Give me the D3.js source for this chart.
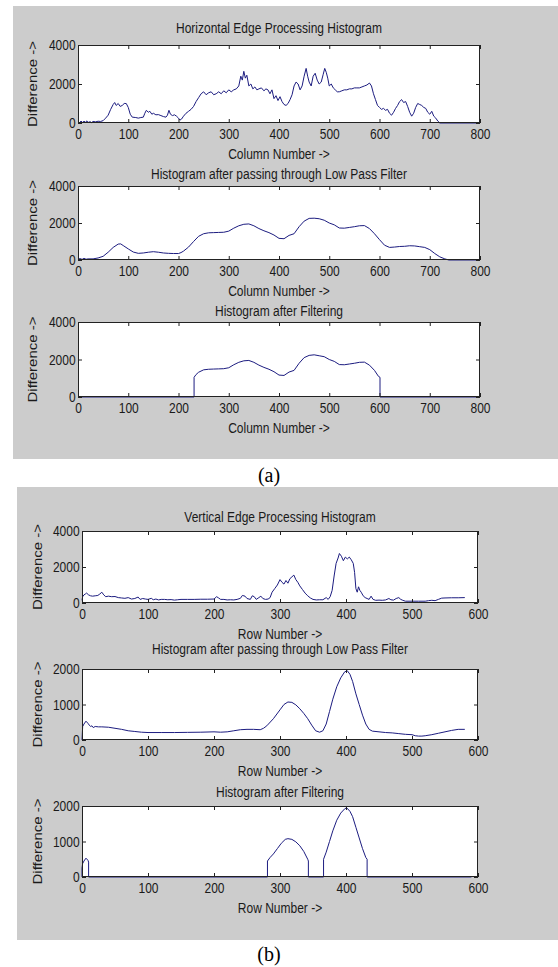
<!DOCTYPE html>
<html>
<head>
<meta charset="utf-8">
<script src="https://cdn.jsdelivr.net/npm/d3@7"></script>
<style>
  body { margin: 0; background: #fff; }
  svg { display: block; }
</style>
</head>
<body>
<div id="chart"></div>
<script>
var svgWidth = 558;
var svgHeight = 967;

// tick values
var colTicks = [0, 100, 200, 300, 400, 500, 600, 700, 800];
var rowTicks = [0, 100, 200, 300, 400, 500, 600];
var diffTicksHigh = [0, 2000, 4000];
var diffTicksLow = [0, 1000, 2000];

// labels
var colTitles = ["Horizontal Edge Processing Histogram", "Histogram after passing through Low Pass Filter", "Histogram after Filtering"];
var rowTitles = ["Vertical Edge Processing Histogram", "Histogram after passing through Low Pass Filter", "Histogram after Filtering"];
var colLabel = "Column Number ->";
var rowLabel = "Row Number ->";
var diffLabel = "Difference ->";
var captions = ["(a)", "(b)"];

// (a) horizontal edge histogram, [column, difference]
var colRaw = [[0,80],[3,20],[6,100],[9,30],[12,90],[15,40],[18,110],[21,30],[24,70],[27,20],[30,80],[35,60],[40,90],[45,80],[50,120],[55,250],[60,400],[65,700],[70,950],[73,1050],[76,900],[80,1000],[84,850],[88,900],[92,1000],[96,1000],[100,800],[104,450],[108,300],[115,280],[120,250],[125,280],[130,300],[133,500],[136,650],[140,550],[143,600],[147,450],[150,500],[155,420],[160,430],[165,380],[170,330],[175,300],[178,400],[181,650],[184,450],[188,380],[192,420],[196,350],[200,250],[203,150],[206,200],[210,350],[215,500],[220,600],[225,700],[230,850],[235,1100],[240,1300],[245,1500],[250,1600],[255,1450],[260,1550],[265,1600],[270,1450],[275,1500],[280,1600],[285,1500],[290,1650],[295,1550],[300,1700],[305,1600],[310,1700],[315,1750],[320,1900],[324,2400],[327,2200],[330,2650],[333,2300],[336,2450],[340,1900],[344,2000],[348,1750],[352,1850],[356,1700],[360,1750],[365,1800],[370,1650],[374,1750],[378,1700],[382,1500],[386,1700],[390,1250],[394,1400],[398,1150],[402,1350],[406,1100],[410,950],[414,900],[418,1000],[422,1200],[426,1450],[430,1900],[434,2100],[438,2000],[442,1700],[446,1900],[450,2400],[454,2800],[457,2400],[460,2100],[464,1900],[468,2400],[472,2550],[476,2200],[480,2000],[484,2100],[488,2500],[491,2800],[494,2600],[497,2300],[500,1900],[504,2000],[508,1800],[512,1700],[516,1600],[520,1600],[525,1650],[530,1700],[535,1700],[540,1750],[545,1750],[550,1800],[555,1800],[560,1800],[565,1850],[570,1900],[575,1950],[580,2050],[584,1900],[588,1500],[592,1200],[596,900],[600,800],[604,700],[608,750],[612,650],[616,700],[620,500],[624,400],[628,550],[632,750],[636,900],[640,1100],[644,1200],[648,1050],[652,1100],[656,850],[660,550],[664,350],[668,500],[672,800],[676,1000],[680,950],[684,900],[688,800],[692,750],[696,550],[700,450],[704,600],[708,350],[712,250],[716,100],[720,0],[800,0]];

var colLowPass = [[0,50],[5,80],[8,30],[12,90],[16,40],[20,60],[30,60],[40,110],[50,200],[60,420],[70,680],[80,860],[85,870],[90,780],[100,600],[110,430],[120,360],[130,380],[140,420],[150,450],[160,420],[170,380],[180,360],[190,350],[200,350],[205,400],[210,480],[220,700],[230,1000],[240,1280],[250,1420],[260,1470],[270,1480],[280,1490],[290,1500],[300,1560],[310,1720],[320,1850],[330,1930],[340,1950],[350,1850],[360,1700],[370,1580],[380,1480],[390,1350],[400,1170],[410,1150],[420,1330],[430,1420],[440,1800],[450,2100],[460,2250],[470,2260],[480,2230],[490,2150],[500,2000],[510,1900],[520,1730],[530,1720],[540,1760],[550,1800],[560,1850],[570,1860],[580,1700],[590,1420],[600,1100],[610,800],[620,680],[630,700],[640,730],[650,740],[660,770],[670,760],[680,720],[690,680],[700,560],[710,350],[720,170],[730,60],[738,0],[800,0]];

var colFiltered = [[0,0],[231,0],[231,1050],[235,1200],[240,1320],[250,1450],[260,1480],[270,1490],[280,1500],[290,1510],[300,1560],[310,1720],[320,1850],[330,1930],[340,1950],[350,1850],[360,1700],[370,1580],[380,1480],[390,1350],[400,1170],[410,1150],[420,1330],[430,1420],[440,1800],[450,2100],[460,2220],[470,2250],[480,2200],[490,2150],[500,2000],[510,1900],[520,1730],[530,1720],[540,1760],[550,1800],[560,1850],[570,1860],[580,1700],[590,1420],[598,1100],[601,1050],[601,0],[800,0]];

// (b) vertical edge histogram, [row, difference]
var rowRaw = [[0,150],[1,350],[3,450],[5,500],[7,550],[10,450],[13,400],[16,380],[20,400],[24,420],[27,500],[30,600],[33,450],[36,350],[40,380],[45,350],[50,360],[55,300],[60,280],[65,260],[70,300],[75,220],[80,250],[85,330],[88,200],[92,250],[96,220],[100,200],[105,260],[108,180],[112,220],[116,170],[120,200],[125,200],[130,180],[135,190],[140,160],[145,180],[150,200],[160,200],[170,200],[180,210],[190,210],[200,220],[204,350],[207,280],[210,200],[215,200],[220,170],[225,180],[230,170],[235,200],[240,260],[243,420],[247,380],[250,250],[255,200],[258,400],[261,350],[264,200],[268,300],[271,380],[274,250],[278,200],[282,220],[285,300],[288,600],[292,800],[296,1000],[300,1300],[303,1150],[306,1050],[309,1250],[312,1100],[315,1350],[318,1450],[321,1550],[324,1300],[327,1150],[330,950],[334,750],[338,550],[342,400],[346,280],[350,200],[355,170],[360,180],[365,180],[370,300],[373,200],[376,350],[379,700],[382,1500],[385,2200],[388,2500],[390,2750],[393,2600],[396,2350],[399,2550],[402,2450],[405,2550],[408,2400],[411,2200],[413,1700],[415,800],[417,600],[419,900],[421,700],[423,600],[426,400],[429,300],[432,250],[435,200],[438,380],[441,200],[445,150],[450,160],[455,150],[460,170],[465,250],[468,180],[472,160],[476,250],[480,300],[483,200],[486,150],[490,100],[500,100],[510,100],[520,100],[525,130],[530,150],[535,130],[540,200],[545,270],[550,280],[560,290],[570,290],[580,300]];

var rowLowPass = [[0,0],[1,380],[3,450],[6,530],[9,470],[11,420],[13,380],[15,400],[17,350],[20,380],[25,370],[30,370],[40,360],[50,330],[60,300],[70,260],[80,240],[90,220],[100,210],[120,210],[140,210],[160,215],[180,220],[200,230],[210,220],[220,230],[230,260],[240,290],[250,300],[260,300],[270,290],[275,330],[280,400],[290,600],[300,850],[306,1000],[312,1070],[318,1060],[324,990],[330,880],[336,750],[342,600],[348,420],[354,260],[360,220],[365,260],[370,450],[375,800],[380,1150],[386,1500],[392,1750],[398,1920],[402,1950],[406,1850],[410,1650],[415,1300],[420,1000],[425,700],[430,450],[435,300],[440,250],[450,230],[460,210],[470,200],[480,180],[490,160],[500,150],[505,120],[510,110],[515,110],[520,120],[530,150],[540,190],[550,230],[560,270],[570,300],[580,300]];

var rowFiltered = [[0,0],[0,250],[1,380],[3,450],[6,530],[9,470],[10,420],[10,0],[281,0],[281,450],[285,550],[290,650],[296,800],[302,950],[308,1060],[312,1080],[318,1060],[324,990],[330,880],[336,720],[342,500],[343,450],[343,0],[366,0],[366,500],[370,700],[375,1000],[380,1300],[386,1600],[392,1800],[398,1920],[401,1950],[406,1850],[410,1700],[415,1400],[420,1100],[425,800],[430,550],[432,500],[432,0],[590,0]];

var fontFamily = "'Liberation Sans', Arial, sans-serif";
var fontSize = 15;
var squeeze = 0.8;      // the screenshot was squeezed horizontally
var lineColor = "#1c1c80";
var textColor = "#1a1a1a";

var svg = d3.select("#chart")
  .append("svg")
  .attr("width", svgWidth)
  .attr("height", svgHeight);

// grey matlab figure windows + captions
var figures = [
  {x: 13, y: 6, w: 545, h: 453, caption: captions[0], capY: 482},
  {x: 17, y: 487, w: 541, h: 453, caption: captions[1], capY: 961}
];

figures.forEach(function(f) {
  svg.append("rect")
    .attr("x", f.x).attr("y", f.y)
    .attr("width", f.w).attr("height", f.h)
    .attr("fill", "#cccccc");
  svg.append("text")
    .attr("x", 269).attr("y", f.capY)
    .attr("text-anchor", "middle")
    .attr("font-family", "'Liberation Serif', 'Times New Roman', serif")
    .attr("font-size", 20)
    .attr("fill", "#000")
    .text(f.caption);
});

var panels = [
  {left: 78, top: 45, width: 402, height: 78, titleY: 33, data: colRaw, xMax: 800, xTicks: colTicks, yMax: 4000, yTicks: diffTicksHigh, title: colTitles[0], xLabel: colLabel},
  {left: 78, top: 186, width: 402, height: 74, titleY: 179, data: colLowPass, xMax: 800, xTicks: colTicks, yMax: 4000, yTicks: diffTicksHigh, title: colTitles[1], xLabel: colLabel},
  {left: 78, top: 322, width: 402, height: 75, titleY: 316, data: colFiltered, xMax: 800, xTicks: colTicks, yMax: 4000, yTicks: diffTicksHigh, title: colTitles[2], xLabel: colLabel},
  {left: 82, top: 531, width: 396, height: 72, titleY: 522, data: rowRaw, xMax: 600, xTicks: rowTicks, yMax: 4000, yTicks: diffTicksHigh, title: rowTitles[0], xLabel: rowLabel},
  {left: 82, top: 669, width: 396, height: 71, titleY: 654, data: rowLowPass, xMax: 600, xTicks: rowTicks, yMax: 2000, yTicks: diffTicksLow, title: rowTitles[1], xLabel: rowLabel},
  {left: 82, top: 806, width: 396, height: 71, titleY: 797, data: rowFiltered, xMax: 600, xTicks: rowTicks, yMax: 2000, yTicks: diffTicksLow, title: rowTitles[2], xLabel: rowLabel}
];

function squeezeText(sel) {
  sel.attr("transform", function() {
    var t = d3.select(this).attr("transform") || "";
    return t + " scale(" + squeeze + ",1)";
  });
}

panels.forEach(function(p, i) {
  var g = svg.append("g")
    .attr("transform", `translate(${p.left}, ${p.top})`);

  var x = d3.scaleLinear().domain([0, p.xMax]).range([0, p.width]);
  var y = d3.scaleLinear().domain([0, p.yMax]).range([p.height, 0]);

  g.append("rect")
    .attr("width", p.width).attr("height", p.height)
    .attr("fill", "#fff");

  g.append("clipPath").attr("id", "clip" + i)
    .append("rect").attr("x", -1).attr("y", -1)
    .attr("width", p.width + 2).attr("height", p.height + 2);

  var line = d3.line()
    .x(d => x(d[0]))
    .y(d => y(d[1]));

  g.append("path")
    .datum(p.data)
    .attr("clip-path", "url(#clip" + i + ")")
    .attr("fill", "none")
    .attr("stroke", lineColor)
    .attr("stroke-width", 1)
    .attr("stroke-linejoin", "round")
    .attr("d", line);

  // matlab style inward ticks on all four sides
  var bottomAxis = d3.axisBottom(x).tickValues(p.xTicks).tickSizeInner(-4).tickSizeOuter(0).tickPadding(5).tickFormat(d3.format("d"));
  var topAxis = d3.axisTop(x).tickValues(p.xTicks).tickSizeInner(-4).tickSizeOuter(0).tickFormat("");
  var leftAxis = d3.axisLeft(y).tickValues(p.yTicks).tickSizeInner(-4).tickSizeOuter(0).tickPadding(3).tickFormat(d3.format("d"));
  var rightAxis = d3.axisRight(y).tickValues(p.yTicks).tickSizeInner(-4).tickSizeOuter(0).tickFormat("");

  var axes = [
    g.append("g").attr("transform", `translate(0, ${p.height})`).call(bottomAxis),
    g.append("g").call(topAxis),
    g.append("g").call(leftAxis),
    g.append("g").attr("transform", `translate(${p.width}, 0)`).call(rightAxis)
  ];
  axes.forEach(function(a) {
    a.select(".domain").remove();
    a.selectAll("line").attr("stroke", "#222");
    a.attr("font-family", fontFamily).attr("font-size", fontSize);
    a.selectAll("text").attr("fill", textColor).call(squeezeText);
  });

  g.append("rect")
    .attr("x", 0.5).attr("y", 0.5)
    .attr("width", p.width - 1).attr("height", p.height - 1)
    .attr("fill", "none")
    .attr("stroke", "#222");

  g.append("text")
    .attr("transform", `translate(${p.width / 2}, ${p.titleY - p.top}) scale(${squeeze},1)`)
    .attr("text-anchor", "middle")
    .attr("font-family", fontFamily).attr("font-size", fontSize)
    .attr("fill", textColor)
    .text(p.title);

  g.append("text")
    .attr("transform", `translate(${p.width / 2}, ${p.height + 36}) scale(${squeeze},1)`)
    .attr("text-anchor", "middle")
    .attr("font-family", fontFamily).attr("font-size", fontSize)
    .attr("fill", textColor)
    .text(p.xLabel);

  g.append("text")
    .attr("transform", `translate(${i < 3 ? -41 : -40}, ${p.height / 2}) scale(${squeeze},1) rotate(-90)`)
    .attr("text-anchor", "middle")
    .attr("font-family", fontFamily).attr("font-size", fontSize)
    .attr("fill", textColor)
    .text(diffLabel);
});
</script>
</body>
</html>
